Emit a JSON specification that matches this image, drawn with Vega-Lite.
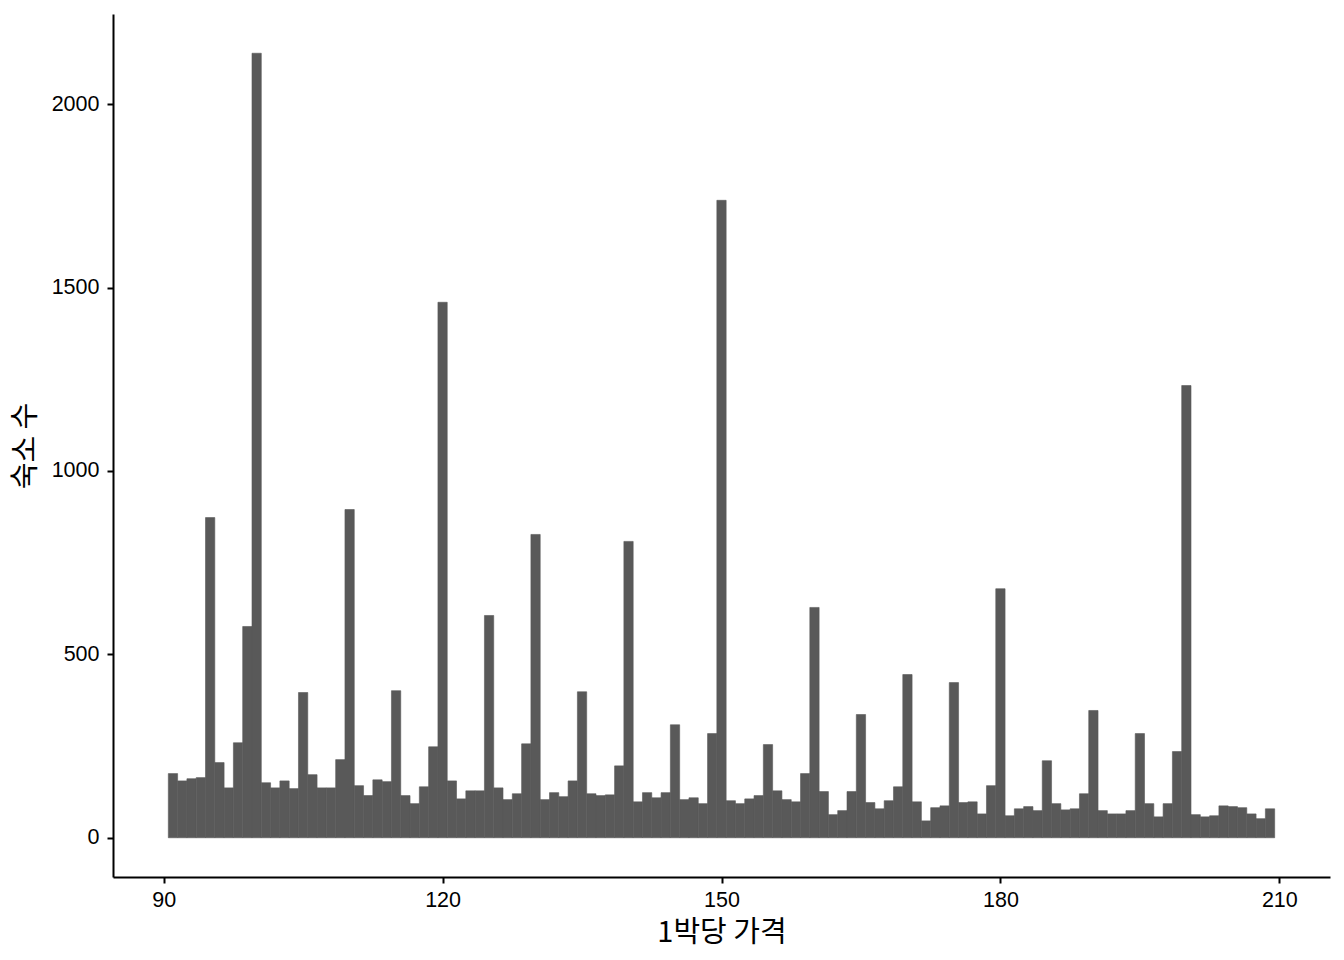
{
  "$schema": "https://vega.github.io/schema/vega-lite/v6.json",
  "width": 1217,
  "height": 863,
  "autosize": {"type": "none"},
  "padding": {"left": 113, "top": 14, "right": 14, "bottom": 83},
  "background": "white",
  "config": {
    "view": {"stroke": null},
    "axis": {"grid": false, "domainColor": "black", "domainWidth": 2, "tickColor": "black", "tickWidth": 2, "tickSize": 6, "labelColor": "black", "labelFont": "Liberation Sans", "labelFontSize": 21.5, "labelPadding": 5, "titleFont": "Noto Sans CJK KR", "titleFontSize": 29, "titleFontWeight": "normal", "titleColor": "black"}
  },
  "data": {"values": [
    {"price":91,"lo":90.5,"hi":91.5,"count":175},{"price":92,"lo":91.5,"hi":92.5,"count":155},{"price":93,"lo":92.5,"hi":93.5,"count":161},{"price":94,"lo":93.5,"hi":94.5,"count":164},{"price":95,"lo":94.5,"hi":95.5,"count":873},{"price":96,"lo":95.5,"hi":96.5,"count":205},{"price":97,"lo":96.5,"hi":97.5,"count":136},{"price":98,"lo":97.5,"hi":98.5,"count":259},{"price":99,"lo":98.5,"hi":99.5,"count":576},{"price":100,"lo":99.5,"hi":100.5,"count":2139},
    {"price":101,"lo":100.5,"hi":101.5,"count":150},{"price":102,"lo":101.5,"hi":102.5,"count":136},{"price":103,"lo":102.5,"hi":103.5,"count":155},{"price":104,"lo":103.5,"hi":104.5,"count":134},{"price":105,"lo":104.5,"hi":105.5,"count":396},{"price":106,"lo":105.5,"hi":106.5,"count":172},{"price":107,"lo":106.5,"hi":107.5,"count":136},{"price":108,"lo":107.5,"hi":108.5,"count":136},{"price":109,"lo":108.5,"hi":109.5,"count":213},{"price":110,"lo":109.5,"hi":110.5,"count":895},
    {"price":111,"lo":110.5,"hi":111.5,"count":142},{"price":112,"lo":111.5,"hi":112.5,"count":115},{"price":113,"lo":112.5,"hi":113.5,"count":158},{"price":114,"lo":113.5,"hi":114.5,"count":153},{"price":115,"lo":114.5,"hi":115.5,"count":401},{"price":116,"lo":115.5,"hi":116.5,"count":115},{"price":117,"lo":116.5,"hi":117.5,"count":93},{"price":118,"lo":117.5,"hi":118.5,"count":139},{"price":119,"lo":118.5,"hi":119.5,"count":248},{"price":120,"lo":119.5,"hi":120.5,"count":1460},
    {"price":121,"lo":120.5,"hi":121.5,"count":155},{"price":122,"lo":121.5,"hi":122.5,"count":106},{"price":123,"lo":122.5,"hi":123.5,"count":128},{"price":124,"lo":123.5,"hi":124.5,"count":128},{"price":125,"lo":124.5,"hi":125.5,"count":606},{"price":126,"lo":125.5,"hi":126.5,"count":136},{"price":127,"lo":126.5,"hi":127.5,"count":104},{"price":128,"lo":127.5,"hi":128.5,"count":120},{"price":129,"lo":128.5,"hi":129.5,"count":256},{"price":130,"lo":129.5,"hi":130.5,"count":827},
    {"price":131,"lo":130.5,"hi":131.5,"count":104},{"price":132,"lo":131.5,"hi":132.5,"count":123},{"price":133,"lo":132.5,"hi":133.5,"count":112},{"price":134,"lo":133.5,"hi":134.5,"count":155},{"price":135,"lo":134.5,"hi":135.5,"count":398},{"price":136,"lo":135.5,"hi":136.5,"count":120},{"price":137,"lo":136.5,"hi":137.5,"count":115},{"price":138,"lo":137.5,"hi":138.5,"count":117},{"price":139,"lo":138.5,"hi":139.5,"count":196},{"price":140,"lo":139.5,"hi":140.5,"count":808},
    {"price":141,"lo":140.5,"hi":141.5,"count":98},{"price":142,"lo":141.5,"hi":142.5,"count":123},{"price":143,"lo":142.5,"hi":143.5,"count":109},{"price":144,"lo":143.5,"hi":144.5,"count":123},{"price":145,"lo":144.5,"hi":145.5,"count":308},{"price":146,"lo":145.5,"hi":146.5,"count":104},{"price":147,"lo":146.5,"hi":147.5,"count":109},{"price":148,"lo":147.5,"hi":148.5,"count":93},{"price":149,"lo":148.5,"hi":149.5,"count":284},{"price":150,"lo":149.5,"hi":150.5,"count":1738},
    {"price":151,"lo":150.5,"hi":151.5,"count":101},{"price":152,"lo":151.5,"hi":152.5,"count":93},{"price":153,"lo":152.5,"hi":153.5,"count":106},{"price":154,"lo":153.5,"hi":154.5,"count":115},{"price":155,"lo":154.5,"hi":155.5,"count":254},{"price":156,"lo":155.5,"hi":156.5,"count":128},{"price":157,"lo":156.5,"hi":157.5,"count":104},{"price":158,"lo":157.5,"hi":158.5,"count":98},{"price":159,"lo":158.5,"hi":159.5,"count":175},{"price":160,"lo":159.5,"hi":160.5,"count":628},
    {"price":161,"lo":160.5,"hi":161.5,"count":126},{"price":162,"lo":161.5,"hi":162.5,"count":63},{"price":163,"lo":162.5,"hi":163.5,"count":74},{"price":164,"lo":163.5,"hi":164.5,"count":126},{"price":165,"lo":164.5,"hi":165.5,"count":336},{"price":166,"lo":165.5,"hi":166.5,"count":96},{"price":167,"lo":166.5,"hi":167.5,"count":79},{"price":168,"lo":167.5,"hi":168.5,"count":101},{"price":169,"lo":168.5,"hi":169.5,"count":139},{"price":170,"lo":169.5,"hi":170.5,"count":445},
    {"price":171,"lo":170.5,"hi":171.5,"count":98},{"price":172,"lo":171.5,"hi":172.5,"count":46},{"price":173,"lo":172.5,"hi":173.5,"count":82},{"price":174,"lo":173.5,"hi":174.5,"count":87},{"price":175,"lo":174.5,"hi":175.5,"count":423},{"price":176,"lo":175.5,"hi":176.5,"count":96},{"price":177,"lo":176.5,"hi":177.5,"count":98},{"price":178,"lo":177.5,"hi":178.5,"count":65},{"price":179,"lo":178.5,"hi":179.5,"count":142},{"price":180,"lo":179.5,"hi":180.5,"count":679},
    {"price":181,"lo":180.5,"hi":181.5,"count":60},{"price":182,"lo":181.5,"hi":182.5,"count":79},{"price":183,"lo":182.5,"hi":183.5,"count":85},{"price":184,"lo":183.5,"hi":184.5,"count":74},{"price":185,"lo":184.5,"hi":185.5,"count":210},{"price":186,"lo":185.5,"hi":186.5,"count":93},{"price":187,"lo":186.5,"hi":187.5,"count":76},{"price":188,"lo":187.5,"hi":188.5,"count":79},{"price":189,"lo":188.5,"hi":189.5,"count":120},{"price":190,"lo":189.5,"hi":190.5,"count":347},
    {"price":191,"lo":190.5,"hi":191.5,"count":74},{"price":192,"lo":191.5,"hi":192.5,"count":65},{"price":193,"lo":192.5,"hi":193.5,"count":65},{"price":194,"lo":193.5,"hi":194.5,"count":74},{"price":195,"lo":194.5,"hi":195.5,"count":284},{"price":196,"lo":195.5,"hi":196.5,"count":93},{"price":197,"lo":196.5,"hi":197.5,"count":57},{"price":198,"lo":197.5,"hi":198.5,"count":93},{"price":199,"lo":198.5,"hi":199.5,"count":235},{"price":200,"lo":199.5,"hi":200.5,"count":1233},
    {"price":201,"lo":200.5,"hi":201.5,"count":63},{"price":202,"lo":201.5,"hi":202.5,"count":57},{"price":203,"lo":202.5,"hi":203.5,"count":60},{"price":204,"lo":203.5,"hi":204.5,"count":87},{"price":205,"lo":204.5,"hi":205.5,"count":85},{"price":206,"lo":205.5,"hi":206.5,"count":82},{"price":207,"lo":206.5,"hi":207.5,"count":65},{"price":208,"lo":207.5,"hi":208.5,"count":52},{"price":209,"lo":208.5,"hi":209.5,"count":79}
  ]},
  "mark": {"type": "bar", "color": "#595959", "stroke": "#595959", "strokeWidth": 0.6},
  "encoding": {
    "x": {"field": "lo", "type": "quantitative", "title": "1박당 가격",
      "scale": {"domain": [84.55, 215.45], "nice": false, "zero": false},
      "axis": {"values": [90, 120, 150, 180, 210], "labelPadding": 6, "titlePadding": 8}},
    "x2": {"field": "hi"},
    "y": {"field": "count", "type": "quantitative", "title": "숙소 수",
      "scale": {"domain": [-107, 2246], "nice": false, "zero": false},
      "axis": {"values": [0, 500, 1000, 1500, 2000], "format": "d", "labelPadding": 8, "titlePadding": 11}},
    "y2": {"datum": 0}
  }
}
